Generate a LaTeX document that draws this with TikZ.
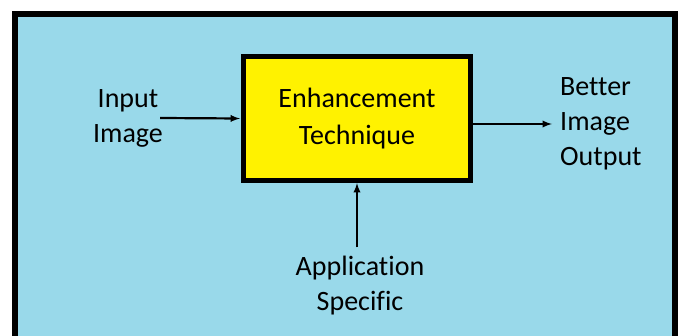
\documentclass[tikz,border=0pt]{standalone}
\usepackage{fontspec}
\setmainfont[Ligatures=CommonOff]{Carlito}
\definecolor{paintblue}{RGB}{153,217,234}
\definecolor{paintyellow}{RGB}{255,242,0}
\begin{document}
\begin{tikzpicture}
    [
    x=1pt,y=-1pt,
    label/.style={inner sep=0pt,align=center,font=\fontsize{28}{35}\selectfont},
    box/.style={draw,fill=paintyellow,line width=5pt,minimum width=227pt,minimum height=124pt,inner sep=0pt,align=center,font=\fontsize{28}{37}\selectfont},
    flow/.style={-latex,line width=2.2pt}
    ]
    \useasboundingbox (0,0) rectangle (679,336);
    \fill [paintblue] (14.5,14.5) rectangle (674.5,345);
    \draw [line width=6pt] (14.5,345) -- (14.5,14.5) -- (674.5,14.5) -- (674.5,345);

    \node (tech) at (357,118.5) [box] {Enhancement\\Technique};
    \node (in) at (128,118) [label] {Input\\Image};
    \node (out) at (560,124) [label,anchor=west,align=left] {Better\\Image\\Output};
    \node (app) at (360,286) [label] {Application\\Specific};

    \draw [flow] ([xshift=-3pt]in.east) to ([xshift=-1pt]tech.west);
    \draw [flow] (tech.east |- out.west) to ([xshift=-8pt]out.west);
    \draw [flow] ([yshift=9pt]app.north -| tech.south) to (tech.south);
\end{tikzpicture}
\end{document}
